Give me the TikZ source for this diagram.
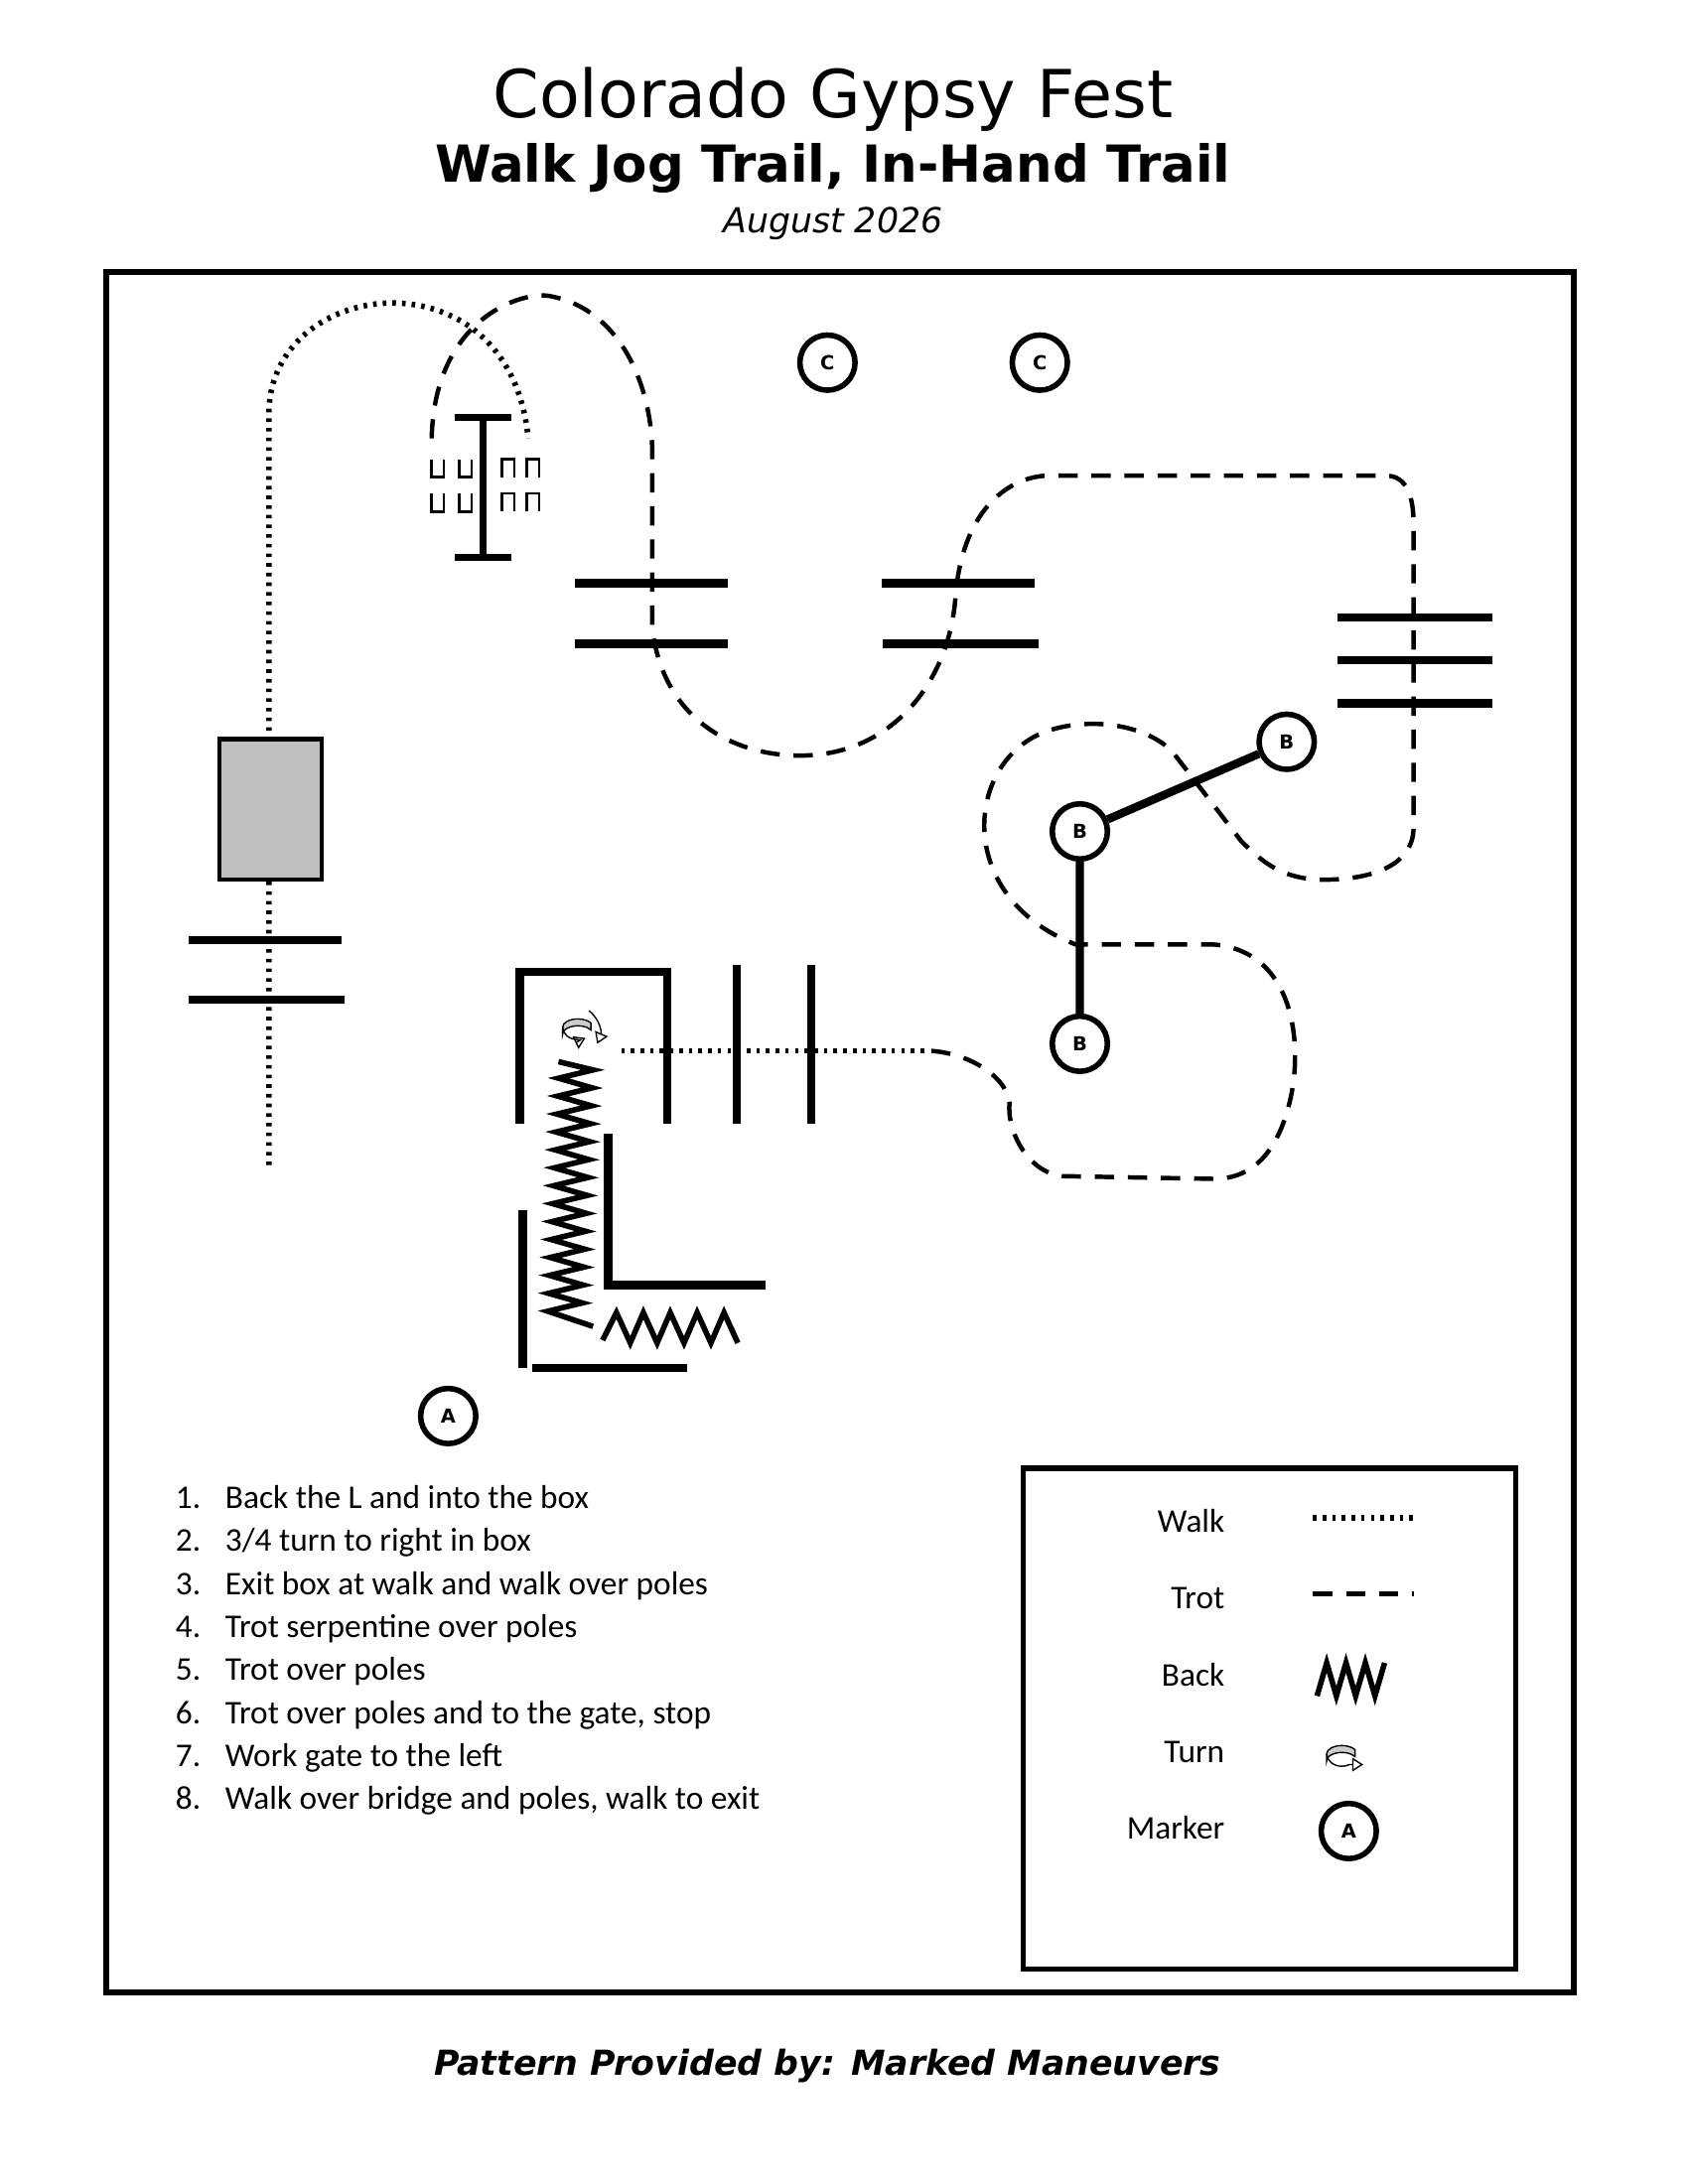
\documentclass[tikz,border=0pt]{standalone}
\usepackage{fontspec}
\setmainfont{DejaVu Sans}
\newfontfamily\carl{Carlito}
\usetikzlibrary{arrows.meta}
\begin{document}
\begin{tikzpicture}[x=0.5pt,y=-0.5pt,
 walk/.style={line width=2pt,dash pattern=on 1.3pt off 2.2pt},
 trot/.style={line width=1.6pt,dash pattern=on 7pt off 5pt},
 pole/.style={line width=3pt},
 mk/.style={circle,draw,line width=2pt,minimum size=20pt,inner sep=0pt,font=\bfseries\scriptsize},
 back/.style={line width=2pt,line join=miter},
 lbl/.style={font=\carl\large,anchor=base east}]
\useasboundingbox (0,0) rectangle (1224,1584);
\node (t1) at (604,72) {\fontsize{24}{28}\selectfont Colorado Gypsy Fest};
\node (t2) at (604,122) {\fontsize{18.5}{22}\selectfont\bfseries Walk Jog Trail, In-Hand Trail};
\node (t3) at (604,162) {\fontsize{12.5}{15}\selectfont\itshape August 2026};
\node (ft) at (600,1498) {\fontsize{12.5}{15}\selectfont\bfseries\itshape Pattern Provided by: Marked Maneuvers};
\draw[line width=2.2pt] (77,197) rectangle (1141,1445);
% bridge and walk
\draw[walk] (195,845) -- (195,300) .. controls (195,200) and (370,180) .. (383,318);
\node[draw,line width=1.5pt,fill=black!25,minimum width=37pt,minimum height=51pt,inner sep=0pt] (br) at (196,587) {};
\draw[pole] (137,682) -- (248,682) (137,725) -- (250,725);
% I-shape
\draw[line width=2.5pt] (350,303) -- (350,404) (330,303) -- (371,303) (330,404) -- (371,404);
\foreach \y in {333,358}{
 \foreach \x in {313,333}{\draw[line width=0.9pt] (\x,\y) -- (\x,\y+13) -- (\x+9,\y+13) -- (\x+9,\y);}
 \foreach \x in {364,382}{\draw[line width=0.9pt] (\x,\y+13) -- (\x,\y) -- (\x+9,\y) -- (\x+9,\y+13);}
}
% trot path
\draw[trot] (313,318) .. controls (315,230) and (380,210) .. (400,215) .. controls (450,225) and (473,280) .. (473,330) -- (473,455) .. controls (480,520) and (530,548) .. (580,548) .. controls (650,548) and (690,490) .. (693,430) .. controls (700,360) and (740,345) .. (760,345) -- (1005,345) .. controls (1020,345) and (1025,360) .. (1025,380) -- (1025,600) .. controls (1025,630) and (990,638) .. (960,638) .. controls (930,638) and (915,625) .. (900,610) -- (850,545) .. controls (830,525) and (790,520) .. (760,530) .. controls (700,550) and (690,650) .. (780,685) -- (880,685) .. controls (940,690) and (945,760) .. (935,800) .. controls (925,840) and (905,855) .. (880,855) -- (770,853) .. controls (745,850) and (730,820) .. (732,800) .. controls (730,780) and (700,762) .. (670,762);
\draw[walk] (670,762) -- (448,762);
% poles
\draw[pole] (417,423) -- (528,423) (417,467) -- (528,467) (639,423) -- (750,423) (640,467) -- (753,467);
\draw[pole] (970,448) -- (1082,448) (970,479) -- (1082,479) (970,510) -- (1082,510);
% markers
\node[mk] (c1) at (600,263) {C};
\node[mk] (c2) at (754,263) {C};
\node[mk] (a) at (325,1027) {A};
\node[mk] (b1) at (933,538) {B};
\node[mk] (b2) at (783,603) {B};
\node[mk] (b3) at (783,757) {B};
\draw[line width=3pt] (b2) -- (b1) (b2) -- (b3);
% box and L
\draw[pole] (377,815) -- (377,705) -- (484,705) -- (484,815);
\draw[pole] (534,700) -- (534,815) (588,700) -- (588,815);
\draw[pole] (441,822) -- (441,932) -- (555,932);
\draw[pole] (379,878) -- (379,992) (386,992) -- (498,992);
% back zigzags
\draw[back] (405,770) \foreach \i in {0,...,13}{ -- ({430-\i*0.6},{776+\i*13}) -- ({405-\i*0.6},{782+\i*13})} -- (430,962);
\draw[back] (437,972) \foreach \i in {0,...,4}{ -- ({447+\i*19.5},952) -- ({457+\i*19.5},974)};
% turn icon
\draw[line width=0.5pt,fill=black!20] (408,745) arc (180:330:11 and 6) -- ++(0,5) arc (330:180:11 and 6) -- cycle;
\draw[line width=0.5pt,-{Triangle[open,length=4pt,width=5pt]}] (408,745) arc (180:60:11 and 9);
\draw[line width=0.5pt,-{Triangle[open,length=4pt,width=5pt]}] (427,733) .. controls (436,740) and (436,750) .. (433,757);
% list
\foreach \t [count=\i] in {Back the L and into the box,3/4 turn to right in box,Exit box at walk and walk over poles,Trot serpentine over poles,Trot over poles,{Trot over poles and to the gate, stop},Work gate to the left,{Walk over bridge and poles, walk to exit}}{
 \node[font=\carl\large,anchor=base west,inner sep=0pt] (n\i) at (127,{1094+31.2*(\i-1)}) {\i.};
 \node[font=\carl\large,anchor=base west,inner sep=0pt] (l\i) at (163,{1094+31.2*(\i-1)}) {\t};
}
% legend
\draw[line width=2pt] (742,1065) rectangle (1099,1428);
\node[lbl] (lw) at (895,1111) {Walk};
\node[lbl] (lt) at (895,1167) {Trot};
\node[lbl] (lb) at (895,1223) {Back};
\node[lbl] (lu) at (895,1278) {Turn};
\node[lbl] (lm) at (895,1334) {Marker};
\draw[walk] (952,1101) -- (1027,1101);
\draw[trot] (952,1156) -- (1025,1156);
\draw[back] (955,1230) -- (962,1206) -- (969,1230) -- (976,1206) -- (983,1230) -- (990,1206) -- (997,1230) -- (1004,1206);
\draw[line width=0.5pt,fill=black!20] (962,1272) arc (180:330:11 and 6) -- ++(0,5) arc (330:180:11 and 6) -- cycle;
\draw[line width=0.5pt,-{Triangle[open,length=4pt,width=5pt]}] (962,1272) arc (180:60:11 and 9) -- ++(10,0);
\node[mk] (la) at (978,1328) {A};
\end{tikzpicture}
\end{document}
